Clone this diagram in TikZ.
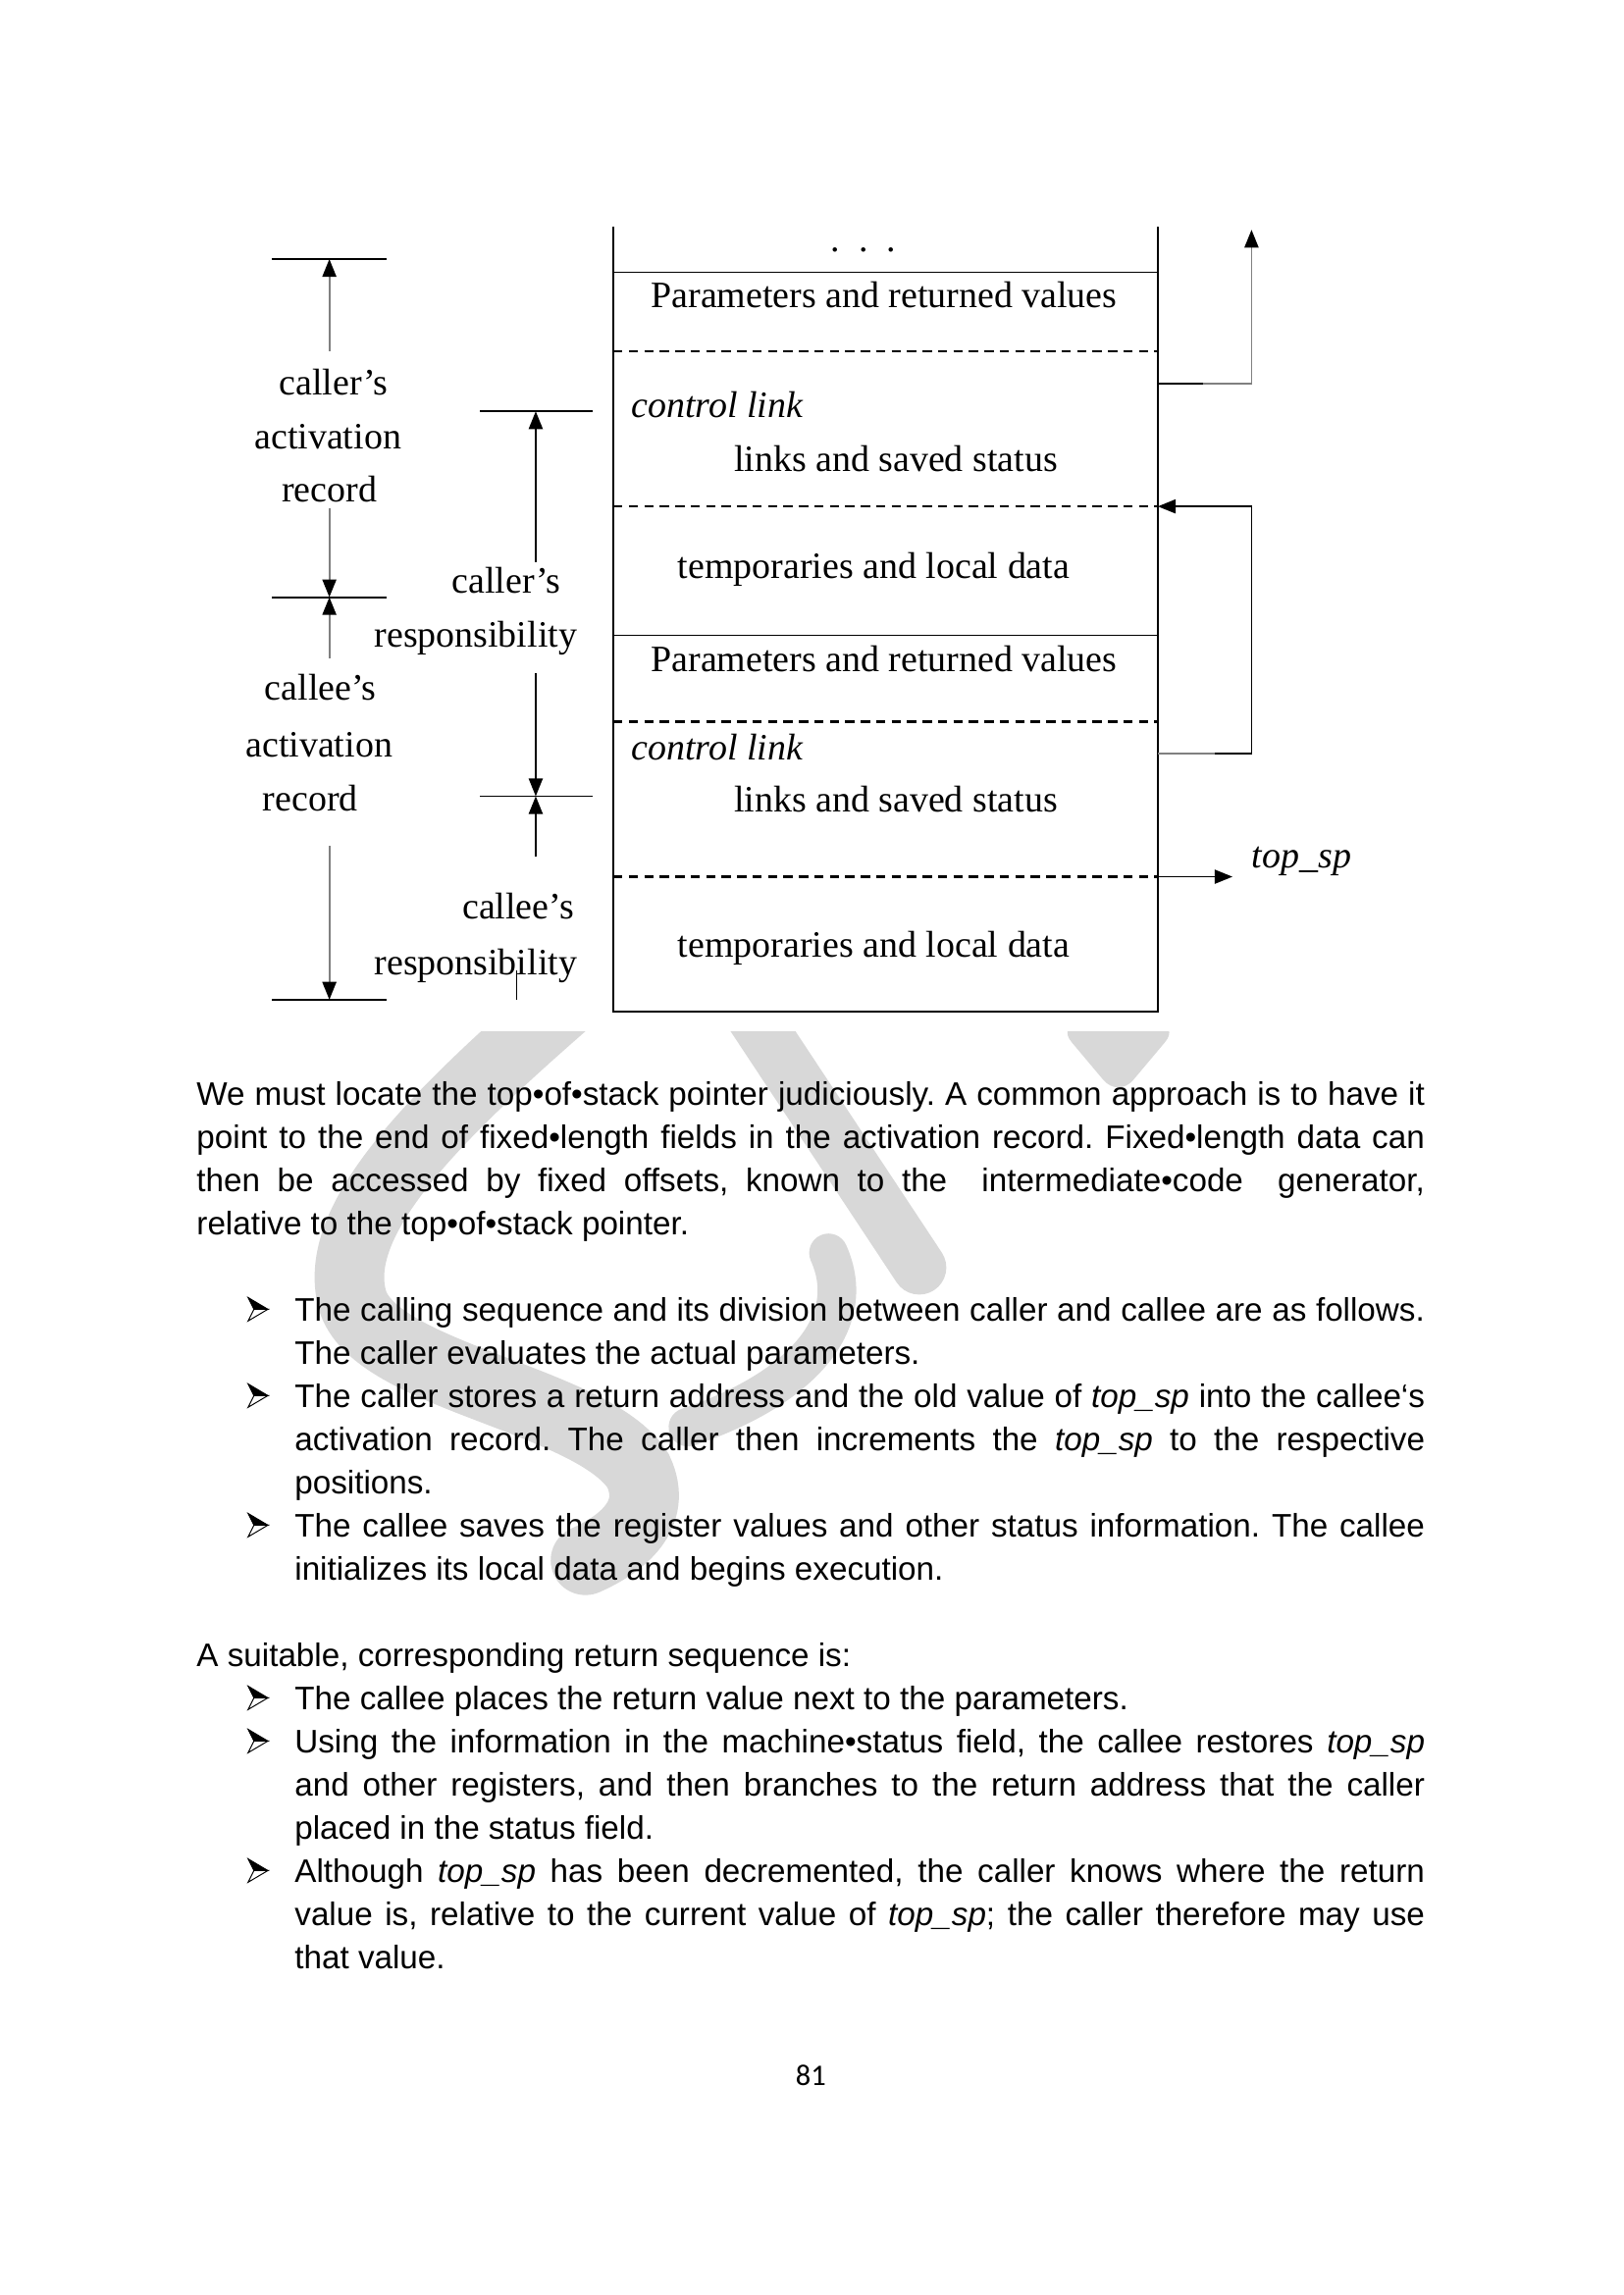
\documentclass[tikz,border=0pt]{standalone}
\usepackage{fontspec}
\setmainfont{Liberation Serif}
\newfontfamily\arialf{Liberation Sans}
\newfontfamily\calibf{Carlito}
\usetikzlibrary{arrows.meta}
\definecolor{wm}{RGB}{216,216,216}
\newlength\tw \setlength\tw{158.87mm}
\newlength\bw \setlength\bw{146.19mm}
\newcommand\jl[2]{\makebox[#1][s]{#2}}
\frenchspacing
\begin{document}
\begin{tikzpicture}[x=0.18936mm, y=-0.18936mm,
  lbl/.style={inner sep=0, anchor=base, font=\fontsize{13.7}{16}\selectfont},
  lblw/.style={inner sep=0, anchor=base west, font=\fontsize{13.7}{16}\selectfont\itshape},
  body/.style={inner sep=0, anchor=base west, font=\arialf\fontsize{12}{14}\selectfont\frenchspacing},
  boxline/.style={line width=0.65pt},
  dashline/.style={line width=0.8pt, dash pattern=on 1.2mm off 0.8mm},
  tickline/.style={line width=0.65pt},
  graydim/.style={draw=black!50, line width=0.65pt, -{Triangle[length=2.3mm,width=1.8mm,color=black]}},
  blackdim/.style={draw=black, line width=0.65pt, -{Triangle[length=2.3mm,width=1.8mm]}},
  link/.style={line width=0.65pt},
  bularrow/.pic={
    \filldraw[line width=0.35pt, fill=white] (13.5,0) -- (0,8) -- (4,0) -- cycle;
    \filldraw[line width=0.35pt, fill=black] (13.5,0) -- (0,-8) -- (4,0) -- cycle;
  }]
\useasboundingbox (0,0) rectangle (1109,1568);
\fill[white] (0,0) rectangle (1109,1568);

% ---------------- watermark ----------------
\begin{scope}
\clip (0,705) rectangle (1109,1568);
\draw[wm, line width=9mm, line cap=round] (392,680) .. controls (300,760) and (228,830) .. (240,885) .. controls (250,940) and (405,955) .. (436,1005) .. controls (450,1035) and (425,1055) .. (400,1066);
\draw[wm, line width=7mm, line cap=round] (505,680) -- (628,866);
\draw[wm, line width=5mm, line cap=round] (566,856) .. controls (588,905) and (545,950) .. (470,975);
\fill[wm, rounded corners=3mm] (722,700) -- (806,700) -- (764,750) -- cycle;
\end{scope}

% ---------------- stack box ----------------
\coordinate (TL) at (419,155);
\coordinate (TR) at (791,155);
\coordinate (BL) at (419,691);
\coordinate (BR) at (791,691);
\draw[boxline] (TL) -- (BL) -- (BR) -- (TR);
\draw[boxline] (419,186) -- (791,186);
\draw[boxline] (419,434) -- (791,434);
\draw[dashline] (419,240) -- (791,240);
\draw[dashline] (419,346) -- (791,346);
\draw[dashline] (419,493) -- (791,493);
\draw[dashline] (419,599) -- (791,599);

\node[lbl] (dots) at (590,172) {.\ \ .\ \ .};
\node[lbl] (par1) at (604,210) {Parameters and returned values};
\node[lblw] (cl1) at (431,285) {control link};
\node[lbl] (ls1) at (612,322) {links and saved status};
\node[lbl] (tl1) at (597,395) {temporaries and local data};
\node[lbl] (par2) at (604,459) {Parameters and returned values};
\node[lblw] (cl2) at (431,519) {control link};
\node[lbl] (ls2) at (612,555) {links and saved status};
\node[lbl] (tl2) at (597,654) {temporaries and local data};

% ---------------- right links ----------------
\coordinate (r1a) at (791,262);
\coordinate (r1b) at (822,262);
\coordinate (r1c) at (855,262);
\coordinate (r1d) at (855,157);
\draw[link] (r1a) -- (r1b);
\draw[graydim] (r1b) -- (r1c) -- (r1d);

\coordinate (r2a) at (791,515);
\coordinate (r2b) at (830,515);
\coordinate (r2c) at (855,515);
\coordinate (r2d) at (855,346);
\coordinate (r2e) at (791,346);
\draw[link, draw=black!50] (r2a) -- (r2b);
\draw[blackdim] (r2b) -- (r2c) -- (r2d) -- (r2e);

\coordinate (sp0) at (791,599);
\node[lblw, anchor=base west] (topsp) at (855,593) {top\_sp};
\coordinate (sp1) at (842,599);
\draw[blackdim] (sp0) -- (sp1);

% ---------------- left dimension: activation records ----------------
\draw[tickline] (186,177) -- (264,177);
\draw[tickline] (186,408) -- (264,408);
\draw[tickline] (186,683) -- (264,683);
\node[lbl] (cr1) at (228,270) {caller’s};
\node[lbl] (cr2) at (224,307) {activation};
\node[lbl] (cr3) at (225,343) {record};
\node[lbl] (ce1) at (219,478) {callee’s};
\node[lbl] (ce2) at (218,517) {activation};
\node[lbl] (ce3) at (212,554) {record};
\coordinate (a1s) at (225,240);
\coordinate (a1e) at (225,177);
\coordinate (a2s) at (225,347);
\coordinate (a2e) at (225,408);
\coordinate (a3s) at (225,450);
\coordinate (a3e) at (225,408);
\coordinate (a4s) at (225,578);
\coordinate (a4e) at (225,683);
\draw[graydim] (a1s) -- (a1e);
\draw[graydim] (a2s) -- (a2e);
\draw[graydim] (a3s) -- (a3e);
\draw[graydim] (a4s) -- (a4e);

% ---------------- middle dimension: responsibilities ----------------
\draw[tickline] (328,281) -- (405,281);
\draw[tickline] (328,544) -- (405,544);
\node[lbl] (rs1) at (346,405) {caller’s};
\node[lbl] (rs2) at (325,442) {responsibility};
\node[lbl] (rs3) at (354,628) {callee’s};
\node[lbl] (rs4) at (325,666) {responsibility};
\coordinate (m1s) at (366,384);
\coordinate (m1e) at (366,281);
\coordinate (m2s) at (366,460);
\coordinate (m2e) at (366,544);
\coordinate (m3s) at (366,585);
\coordinate (m3e) at (366,544);
\draw[blackdim] (m1s) -- (m1e);
\draw[blackdim] (m2s) -- (m2e);
\draw[blackdim] (m3s) -- (m3e);
\coordinate (m4s) at (353,663);
\coordinate (m4e) at (353,683);
\draw[link] (m4s) -- (m4e);

% ---------------- body text ----------------
\node[body] (l0) at (134,755) {\jl{\tw}{We must locate the top•of•stack pointer judiciously. A common approach is to have it}};
\node[body] (l1) at (134,784.5) {\jl{\tw}{point to the end of fixed•length fields in the activation record. Fixed•length data can}};
\node[body] (l2) at (134,814) {\jl{\tw}{then be accessed by fixed offsets, known to the~ intermediate•code~ generator,}};
\node[body] (l3) at (134,843.5) {relative to the top•of•stack pointer.};

\pic at (169.5,894.5) {bularrow};
\node[body] (l5) at (201,902.5) {\jl{\bw}{The calling sequence and its division between caller and callee are as follows.}};
\node[body] (l6) at (201,932) {The caller evaluates the actual parameters.};
\pic at (169.5,953.5) {bularrow};
\node[body] (l7) at (201,961.5) {\jl{\bw}{The caller stores a return address and the old value of \textit{top\_sp} into the callee‘s}};
\node[body] (l8) at (201,991) {\jl{\bw}{activation record. The caller then increments the \textit{top\_sp} to the respective}};
\node[body] (l9) at (201,1020.5) {positions.};
\pic at (169.5,1042) {bularrow};
\node[body] (l10) at (201,1050) {\jl{\bw}{The callee saves the register values and other status information. The callee}};
\node[body] (l11) at (201,1079.5) {initializes its local data and begins execution.};

\node[body] (l13) at (134,1138.5) {A suitable, corresponding return sequence is:};
\pic at (169.5,1160) {bularrow};
\node[body] (l14) at (201,1168) {The callee places the return value next to the parameters.};
\pic at (169.5,1189.5) {bularrow};
\node[body] (l15) at (201,1197.5) {\jl{\bw}{Using the information in the machine•status field, the callee restores \textit{top\_sp}}};
\node[body] (l16) at (201,1227) {\jl{\bw}{and other registers, and then branches to the return address that the caller}};
\node[body] (l17) at (201,1256.5) {placed in the status field.};
\pic at (169.5,1278) {bularrow};
\node[body] (l18) at (201,1286) {\jl{\bw}{Although \textit{top\_sp} has been decremented, the caller knows where the return}};
\node[body] (l19) at (201,1315.5) {\jl{\bw}{value is, relative to the current value of \textit{top\_sp}; the caller therefore may use}};
\node[body] (l20) at (201,1345) {that value.};

\node[inner sep=0, anchor=base, font=\calibf\fontsize{11}{13}\selectfont] (pg) at (554,1425) {81};
\end{tikzpicture}
\end{document}
